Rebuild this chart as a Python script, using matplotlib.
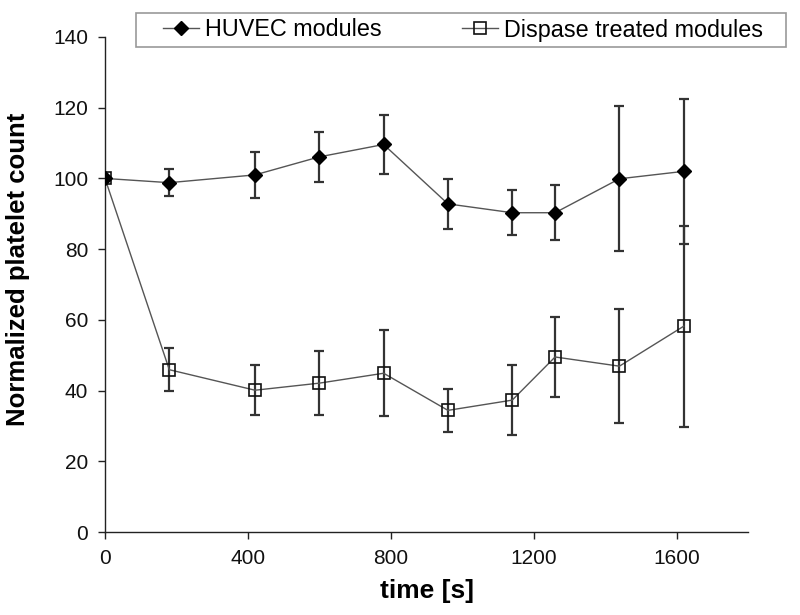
import matplotlib
matplotlib.use("Agg")
import matplotlib.pyplot as plt
from matplotlib.patches import Rectangle

plt.rcParams['font.family'] = ['Liberation Sans', 'DejaVu Sans']

time_s = [0, 180, 420, 600, 780, 960, 1140, 1260, 1440, 1620]
huvec = [100, 98.8, 101.0, 106.1, 109.6, 92.8, 90.3, 90.3, 99.9, 102.0]
huvec_err = [0, 3.9, 6.5, 7.1, 8.3, 7.1, 6.3, 7.7, 20.5, 20.6]
dispase = [100, 45.9, 40.1, 42.1, 44.9, 34.4, 37.3, 49.5, 46.9, 58.2]
dispase_err = [0, 6.1, 7.0, 9.1, 12.2, 6.1, 10.0, 11.2, 16.1, 28.4]

x_ticks = [0, 400, 800, 1200, 1600]
y_ticks = [0, 20, 40, 60, 80, 100, 120, 140]

fig = plt.figure(figsize=(8.0, 6.15), dpi=100)
ax = fig.add_axes([105/800, 1-532/615, (748-105)/800, (532-37)/615])

eb_kw = dict(fmt='none', ecolor='#333333', elinewidth=1.6, capsize=3.8,
             capthick=1.6, zorder=2)
ax.errorbar(time_s[1:], dispase[1:], yerr=dispase_err[1:], **eb_kw)
ax.errorbar(time_s[1:], huvec[1:], yerr=huvec_err[1:], **eb_kw)
ax.plot(time_s, dispase, color='#555555', lw=1.0, marker='s', markersize=8.5,
        markerfacecolor='none', markeredgecolor='#111111', markeredgewidth=1.2,
        label='Dispase treated modules', zorder=3)
ax.plot(time_s, huvec, color='#555555', lw=1.0, marker='D', markersize=7.5,
        markerfacecolor='black', markeredgecolor='black',
        label='HUVEC modules', zorder=4)

ax.set_xlim(0, 1800)
ax.set_ylim(0, 140)
ax.set_xticks(x_ticks)
ax.set_yticks(y_ticks)
ax.tick_params(axis='both', direction='out', length=5, width=1, labelsize=15,
               color='#222222', labelcolor='#111111')
ax.tick_params(axis='x', pad=7)
ax.tick_params(axis='y', pad=7)
ax.spines['top'].set_visible(False)
ax.spines['right'].set_visible(False)
for s in ('left', 'bottom'):
    ax.spines[s].set_color('#222222')
    ax.spines[s].set_linewidth(1.0)

ax.set_xlabel('time [s]', fontsize=19, fontweight='bold', labelpad=8)
ax.set_ylabel('Normalized platelet count', fontsize=18.5, fontweight='bold')
ax.yaxis.set_label_coords(-0.117, 0.53)

# legend frame
fig.patches.append(Rectangle((136/800, 1-47/615), 650/800, 34/615,
                             transform=fig.transFigure, facecolor='white',
                             edgecolor='#999999', linewidth=1.2, zorder=5))
h, l = ax.get_legend_handles_labels()
leg = fig.legend(h[::-1], l[::-1], loc='center', ncol=2,
                 bbox_to_anchor=(463/800, 1-30/615),
                 fontsize=16.8, frameon=False, handlelength=1.55,
                 handletextpad=0.25, columnspacing=3.45, borderpad=0,
                 markerscale=0.95)
leg.set_zorder(6)

fig.savefig('out.png', dpi=100)
